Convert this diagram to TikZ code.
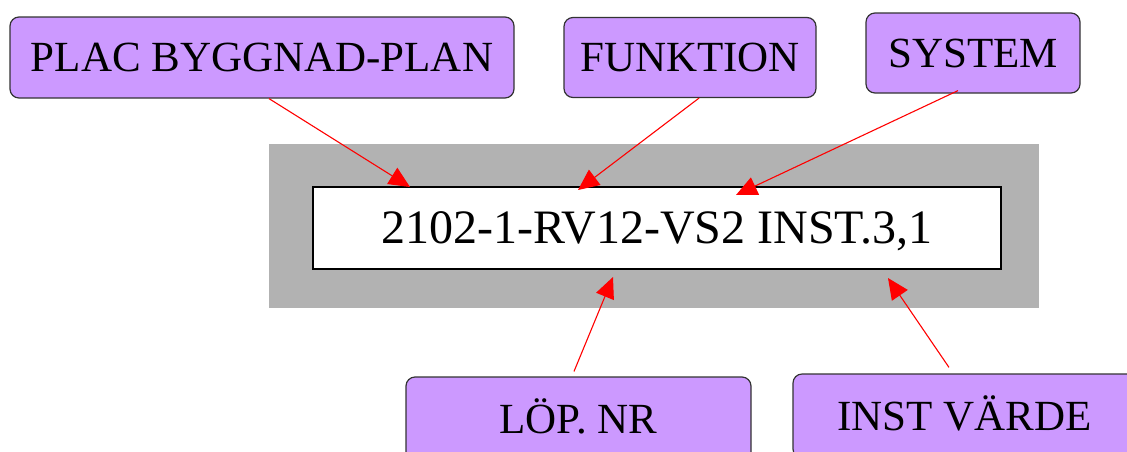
\documentclass[tikz,border=0pt]{standalone}
\usepackage{fontspec}
\setmainfont{Liberation Serif}
\usetikzlibrary{arrows.meta}
\definecolor{lav}{RGB}{204,153,255}
\definecolor{boxgray}{RGB}{178,178,178}
\begin{document}
\begin{tikzpicture}[x=1pt,y=-1pt,
  labelbox/.style={draw=black!80, line width=1.2pt, fill=lav, rounded corners=9pt,
    inner sep=0pt, font=\fontsize{43}{43}\selectfont, text height=28.5pt, text depth=0pt},
  conn/.style={draw=red, line width=1.1pt, -{Triangle[length=21pt,width=19pt]}}]
\useasboundingbox (0,0) rectangle (1127,451);
\clip (0,0) rectangle (1127,451);
% frame and code box
\node[fill=boxgray, inner sep=0pt, minimum width=770pt, minimum height=164pt] (frame) at (654,226) {};
\node[draw=black, fill=white, line width=1.3pt, inner sep=0pt, minimum width=688pt, minimum height=82pt,
  font=\fontsize{48}{48}\selectfont, text height=31.8pt, text depth=0pt] (code) at (657,228) {2102-1-RV12-VS2 INST.3,1};
% labels
\node[labelbox, minimum width=504pt, minimum height=81pt] (plac) at (262,57.5) {PLAC BYGGNAD-PLAN};
\node[labelbox, minimum width=252pt, minimum height=80pt] (funk) at (690,57.5) {FUNKTION};
\node[labelbox, minimum width=214pt, minimum height=80pt] (sys) at (973,53) {SYSTEM};
\node[labelbox, minimum width=345pt, minimum height=84pt] (lop) at (578.5,419) {LÖP. NR};
\node[labelbox, minimum width=343pt, minimum height=84pt] (inst) at (964.5,416) {INST VÄRDE};
% arrow tips
\coordinate (t1) at (410,187);
\coordinate (t2) at (578,190);
\coordinate (t3) at (736,195);
\coordinate (t4) at (613,277);
\coordinate (t5) at (888,278);
\draw[conn] ([xshift=7pt]plac.south) -- (t1);
\draw[conn] ([xshift=9pt]funk.south) -- (t2);
\draw[conn] ([xshift=-15pt,yshift=3pt]sys.south) -- (t3);
\draw[conn] ([xshift=-4.5pt,yshift=5pt]lop.north) -- (t4);
\draw[conn] ([xshift=-15.5pt,yshift=6pt]inst.north) -- (t5);
\end{tikzpicture}
\end{document}
